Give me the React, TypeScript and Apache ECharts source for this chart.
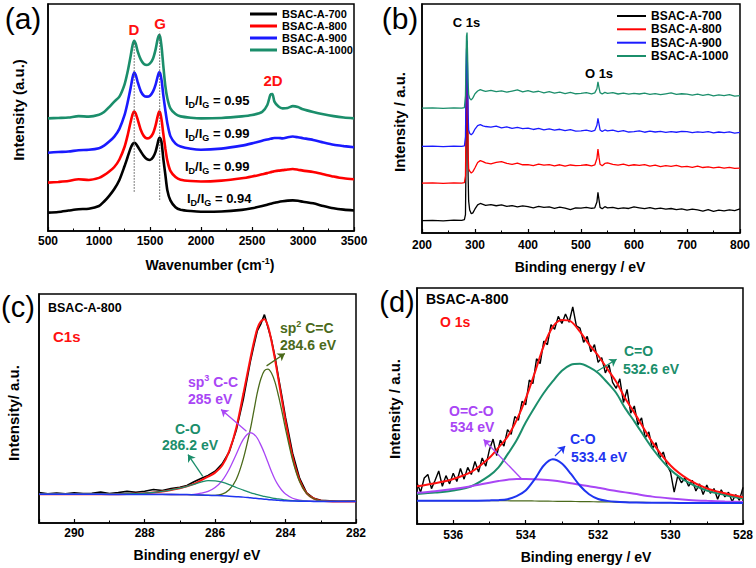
import React, { useEffect, useRef } from 'react';
import * as echarts from 'echarts';

const FONT = '"Liberation Sans", Arial, Helvetica, sans-serif';

// ---------- shared ----------
const sampleNames = ['BSAC-A-700', 'BSAC-A-800', 'BSAC-A-900', 'BSAC-A-1000'];
const sampleColors = ['#000000', '#ff0000', '#1a1aff', '#1b8e6b'];

// ---------- (a) Raman ----------
const ramanX = [500, 600, 700, 800, 900, 1000, 1050, 1100, 1150, 1200, 1250, 1280, 1310, 1330, 1345, 1360, 1380, 1410, 1440, 1470, 1500, 1530, 1555, 1575, 1590, 1600, 1615, 1630, 1650, 1670, 1700, 1750, 1800, 1900, 2000, 2200, 2400, 2500, 2600, 2650, 2680, 2700, 2720, 2760, 2800, 2850, 2900, 2950, 3000, 3100, 3200, 3300, 3400, 3500];
const raman700 = [8.1, 8.4, 9.0, 9.6, 9.8, 11.0, 13.0, 15.5, 18.5, 22.5, 28.5, 32.5, 36.5, 38.3, 38.9, 38.5, 37.2, 35.0, 33.0, 31.7, 31.3, 32.5, 35.0, 38.5, 41.0, 41.0, 38.5, 32.0, 25.0, 18.0, 13.5, 10.5, 9.4, 8.8, 8.5, 8.6, 9.3, 10.0, 11.0, 11.6, 12.0, 12.2, 12.4, 12.8, 13.1, 13.4, 13.5, 13.3, 12.9, 12.2, 11.0, 10.0, 9.4, 9.0];
const raman800 = [21.3, 21.6, 22.0, 22.8, 22.5, 23.4, 24.6, 26.2, 28.2, 31.5, 37.0, 42.0, 48.0, 51.5, 52.6, 51.8, 49.0, 44.5, 41.8, 40.8, 41.2, 43.0, 46.5, 50.5, 52.6, 52.0, 48.5, 43.0, 36.5, 31.0, 26.5, 23.8, 22.6, 22.0, 21.8, 22.2, 23.2, 24.0, 25.0, 25.5, 25.9, 26.1, 26.3, 26.6, 26.8, 27.1, 27.3, 27.0, 26.6, 26.0, 25.0, 24.0, 23.2, 22.8];
const raman900 = [34.5, 34.8, 35.0, 35.6, 35.8, 36.5, 37.6, 39.4, 41.6, 45.0, 51.0, 56.5, 63.0, 67.8, 69.8, 68.8, 65.5, 61.5, 59.6, 59.2, 59.6, 61.5, 64.5, 68.0, 69.9, 69.5, 66.0, 60.0, 53.3, 47.5, 41.8, 38.5, 37.2, 36.2, 35.8, 36.3, 37.6, 38.6, 39.8, 40.3, 40.6, 40.8, 41.0, 41.0, 40.8, 41.3, 41.6, 41.3, 40.9, 40.1, 39.0, 38.0, 37.4, 36.9];
const raman1000 = [49.6, 49.8, 50.0, 50.6, 50.4, 51.2, 52.4, 54.6, 57.0, 59.2, 64.5, 70.0, 77.0, 82.0, 83.8, 82.5, 79.0, 75.5, 73.6, 73.1, 73.8, 76.0, 80.0, 84.5, 86.3, 85.5, 80.5, 73.0, 64.0, 58.5, 54.0, 51.5, 50.5, 49.9, 49.6, 49.8, 50.5, 51.1, 52.5, 55.5, 60.0, 60.3, 57.0, 54.8, 54.0, 54.2, 55.0, 54.6, 53.6, 52.4, 51.4, 50.6, 50.0, 49.6];
const ramanGuideX = [1345, 1595];
const ramanGuideLow = [17.3, 13.7];
const ramanGuideHigh = [82.7, 87.8];
const idigValues = ['0.95', '0.99', '0.99', '0.94'];

// ---------- (b) XPS survey ----------
const xpsX = [200, 220, 240, 260, 275, 280, 282, 283, 284, 285, 286, 287, 288, 290, 293, 296, 300, 305, 310, 315, 320, 330, 340, 350, 360, 370, 380, 390, 400, 410, 420, 430, 440, 450, 460, 470, 480, 490, 500, 510, 520, 526, 530, 532, 534, 536, 540, 545, 550, 560, 570, 580, 590, 600, 610, 620, 630, 640, 650, 660, 670, 680, 690, 700, 710, 720, 730, 740, 750, 760, 770, 780, 790, 800];
const xps700 = [5.4, 5.5, 5.3, 5.6, 5.5, 5.8, 8, 30, 65, 78, 55, 25, 14, 10, 8.4, 8.8, 10.5, 12.3, 12.9, 12.5, 12.1, 12.4, 11.9, 12.3, 11.6, 12.0, 11.4, 11.8, 11.5, 11.0, 11.6, 11.2, 11.4, 10.8, 11.3, 10.9, 10.2, 11.0, 10.9, 11.2, 10.8, 11.0, 13.5, 17.8, 14.5, 11.2, 10.6, 11.5, 11.0, 11.2, 10.6, 11.0, 10.7, 11.4, 11.0, 10.6, 11.1, 10.5, 10.9, 10.4, 10.7, 10.2, 10.5, 10.0, 10.4, 10.1, 9.6, 10.2, 9.4, 10.0, 9.7, 10.1, 9.8, 10.5];
const xps800 = [21.8, 21.9, 21.7, 21.9, 21.8, 22.0, 25, 45, 72, 81, 60, 35, 28, 27, 26.2, 26.8, 28.5, 30.8, 31.6, 31.2, 30.6, 30.2, 30.8, 31.2, 30.4, 30.0, 30.5, 29.8, 29.9, 29.4, 30.1, 29.6, 29.9, 29.3, 29.8, 29.2, 29.7, 29.4, 29.5, 29.8, 29.3, 29.7, 32.5, 36.6, 33.0, 30.0, 29.4, 30.4, 30.6, 30.0, 29.6, 30.1, 29.4, 29.8, 29.5, 29.9, 29.2, 29.6, 29.0, 29.4, 29.1, 29.5, 28.9, 29.1, 28.7, 29.2, 28.6, 28.9, 28.4, 28.8, 28.3, 28.7, 28.2, 28.3];
const xps900 = [37.8, 37.9, 37.7, 37.9, 37.8, 38.0, 42, 60, 80, 84, 70, 52, 45, 43.5, 42.9, 43.6, 45.4, 46.9, 47.3, 46.8, 46.5, 46.2, 46.7, 45.9, 46.3, 45.7, 46.1, 45.6, 45.8, 45.2, 45.7, 45.0, 45.5, 44.9, 45.3, 44.7, 45.1, 44.5, 44.6, 44.9, 44.4, 44.8, 47.0, 50.1, 47.5, 45.0, 44.3, 45.0, 44.6, 44.9, 44.3, 44.7, 44.1, 44.3, 44.6, 44.0, 44.5, 44.1, 44.4, 43.9, 44.3, 44.0, 44.4, 44.3, 43.8, 44.2, 43.9, 44.3, 43.7, 44.1, 43.8, 44.2, 43.6, 43.9];
const xps1000 = [54.5, 54.6, 54.4, 54.6, 54.5, 54.8, 60, 75, 86, 87.5, 78, 66, 60.5, 58.8, 58.1, 59.0, 60.8, 62.0, 62.6, 62.2, 61.8, 62.3, 61.7, 62.1, 61.5, 62.0, 62.5, 61.6, 62.2, 61.5, 61.9, 61.2, 61.7, 61.1, 61.5, 60.9, 61.4, 60.8, 61.0, 61.3, 60.8, 61.2, 63.0, 66.0, 63.5, 61.3, 60.7, 61.4, 61.0, 61.3, 60.7, 61.1, 60.6, 61.0, 60.7, 61.1, 60.5, 60.9, 60.4, 60.8, 61.2, 60.5, 60.8, 60.6, 60.2, 60.6, 60.1, 60.5, 59.9, 60.3, 60.0, 60.4, 59.8, 60.0];

// ---------- (c) C1s ----------
const cX = [291, 290.5, 290, 289.5, 289, 288.5, 288, 287.5, 287, 286.8, 286.6, 286.4, 286.2, 286, 285.8, 285.6, 285.4, 285.2, 285, 284.9, 284.8, 284.7, 284.6, 284.5, 284.4, 284.3, 284.2, 284.1, 284, 283.8, 283.6, 283.4, 283.2, 283, 282.5, 282];
const cFit = [12.6, 12.6, 12.6, 12.6, 12.6, 12.7, 13.0, 13.8, 15.2, 16.0, 17.1, 18.6, 20.2, 22.0, 25.1, 31.4, 41.5, 56.3, 71.7, 78.9, 85.0, 88.0, 89.0, 86.0, 79.5, 71.5, 62.5, 53.4, 44.4, 28.9, 18.6, 12.9, 10.7, 9.7, 9.4, 9.4];
const cSp2 = [12.6, 12.6, 12.6, 12.6, 12.5, 12.5, 12.5, 12.5, 12.4, 12.4, 12.3, 12.2, 12.1, 12.1, 12.6, 14.5, 19.0, 28.0, 41.0, 49.0, 57.0, 63.0, 66.5, 67.2, 65.5, 61.5, 55.5, 48.5, 41.0, 27.5, 18.0, 12.8, 10.6, 9.7, 9.4, 9.4];
const cSp3 = [12.6, 12.6, 12.6, 12.6, 12.5, 12.5, 12.5, 12.5, 12.4, 12.4, 12.5, 13.0, 13.8, 15.5, 18.5, 23.5, 30.0, 36.5, 39.4, 38.8, 37.0, 34.0, 30.5, 26.5, 22.5, 19.0, 16.3, 14.2, 12.7, 10.8, 10.0, 9.6, 9.5, 9.4, 9.4, 9.4];
const cCO = [12.6, 12.6, 12.6, 12.6, 12.6, 12.7, 13.0, 13.8, 15.2, 16.0, 16.9, 17.8, 18.5, 18.4, 17.8, 16.8, 15.5, 14.4, 13.3, 12.8, 12.4, 12.0, 11.6, 11.3, 11.0, 10.7, 10.5, 10.3, 10.1, 9.8, 9.6, 9.5, 9.4, 9.4, 9.4, 9.4];
const cBg = [12.6, 12.6, 12.6, 12.6, 12.5, 12.5, 12.5, 12.5, 12.4, 12.4, 12.3, 12.2, 12.1, 12.0, 11.9, 11.7, 11.5, 11.3, 11.0, 10.85, 10.7, 10.55, 10.4, 10.25, 10.1, 10.0, 9.9, 9.8, 9.7, 9.6, 9.5, 9.5, 9.4, 9.4, 9.4, 9.4];
const cRawX = [291, 290.75, 290.5, 290.25, 290, 289.75, 289.5, 289.25, 289, 288.75, 288.5, 288.25, 288, 287.75, 287.5, 287.25, 287, 286.8, 286.6, 286.4, 286.2, 286, 285.8, 285.6, 285.4, 285.2, 285, 284.9, 284.8, 284.7, 284.6, 284.5, 284.4, 284.3, 284.2, 284.1, 284, 283.8, 283.6, 283.4, 283.2, 283, 282.5, 282];
const cRawY = [13.3, 12.8, 13.1, 12.7, 13.2, 12.9, 13.0, 13.5, 12.9, 13.3, 13.8, 13.4, 13.9, 14.6, 14.2, 15.0, 15.6, 16.4, 18.0, 19.4, 20.8, 22.6, 25.8, 31.0, 40.5, 54.0, 70.5, 77.5, 84.0, 87.0, 91.0, 85.5, 80.0, 72.5, 63.5, 55.0, 46.0, 30.5, 19.5, 13.2, 10.8, 9.9, 9.5, 9.6];

// ---------- (d) O1s ----------
const dX = [537, 536.5, 536, 535.5, 535, 534.75, 534.5, 534.25, 534, 533.75, 533.5, 533.25, 533, 532.75, 532.5, 532.25, 532, 531.75, 531.5, 531.25, 531, 530.5, 530, 529.5, 529, 528.5, 528];
const dFit = [16.0, 17.3, 19.1, 22.1, 28.1, 32.4, 37.0, 44.0, 53.0, 64.0, 75.5, 83.5, 86.4, 85.8, 81.5, 76.1, 71.4, 65.8, 60.3, 53.2, 47.2, 34.6, 24.8, 18.8, 15.1, 13.0, 11.3];
const dCdO = [12.7, 13.3, 14.2, 16.0, 20.5, 24.0, 29.5, 35.5, 43.0, 49.5, 55.5, 60.5, 64.9, 67.5, 67.9, 66.5, 64.0, 60.0, 55.5, 49.0, 43.5, 32.0, 23.0, 17.5, 14.2, 12.3, 10.8];
const dOCO = [13.2, 13.9, 14.8, 16.0, 17.5, 18.2, 18.8, 19.1, 19.1, 19.0, 18.8, 18.4, 17.9, 17.3, 16.6, 16.0, 15.4, 14.6, 14.0, 13.4, 12.8, 11.6, 10.8, 10.2, 9.8, 9.5, 9.3];
const dCO = [9.9, 9.9, 9.9, 9.9, 10.0, 10.1, 10.5, 11.8, 14.2, 19.0, 24.8, 27.4, 25.6, 21.2, 16.2, 12.6, 10.6, 9.8, 9.4, 9.2, 9.1, 9.0, 9.0, 8.9, 8.9, 8.9, 8.9];
const dBg = [9.9, 9.9, 9.9, 9.9, 9.9, 9.9, 9.85, 9.8, 9.8, 9.75, 9.7, 9.65, 9.6, 9.55, 9.5, 9.45, 9.4, 9.35, 9.3, 9.25, 9.2, 9.1, 9.0, 8.95, 8.9, 8.85, 8.8];
const dRawX = [537.0, 536.9, 536.8, 536.7, 536.6, 536.5, 536.4, 536.3, 536.2, 536.1, 536.0, 535.9, 535.8, 535.7, 535.6, 535.5, 535.4, 535.3, 535.2, 535.1, 535.0, 534.9, 534.8, 534.7, 534.6, 534.5, 534.4, 534.3, 534.2, 534.1, 534.0, 533.9, 533.8, 533.7, 533.6, 533.5, 533.4, 533.3, 533.2, 533.1, 533.0, 532.9, 532.8, 532.7, 532.6, 532.5, 532.4, 532.3, 532.2, 532.1, 532.0, 531.9, 531.8, 531.7, 531.6, 531.5, 531.4, 531.3, 531.2, 531.1, 531.0, 530.9, 530.8, 530.7, 530.6, 530.5, 530.4, 530.3, 530.2, 530.1, 530.0, 529.9, 529.8, 529.7, 529.6, 529.5, 529.4, 529.3, 529.2, 529.1, 529.0, 528.9, 528.8, 528.7, 528.6, 528.5, 528.4, 528.3, 528.2, 528.1, 528.0];
const dRawY = [17.5, 13.5, 19.5, 21.0, 15.0, 18.5, 22.5, 16.0, 20.5, 17.0, 21.5, 18.0, 23.5, 19.0, 24.0, 21.0, 26.5, 22.0, 28.0, 24.5, 31.5, 36.0, 29.0, 35.5, 33.0, 40.0, 38.0, 45.5, 44.0, 52.0, 50.5, 61.0, 59.5, 70.0, 68.0, 77.5, 76.0, 84.5, 82.5, 88.0, 85.0, 89.0, 85.5, 92.0, 84.0, 83.0, 77.0, 79.5, 73.0, 76.0, 68.5, 70.5, 64.0, 67.5, 60.0, 57.5, 61.5, 51.5, 57.0, 47.0, 50.0, 42.0, 45.0, 36.5, 39.0, 32.0, 34.5, 28.0, 30.5, 25.0, 22.0, 13.5, 20.5, 17.5, 19.5, 16.0, 18.5, 14.0, 17.0, 12.5, 16.5, 13.0, 15.0, 10.5, 14.5, 11.5, 13.5, 9.5, 12.5, 10.0, 15.5];

const RED = '#ff1010';
const OLIVE = '#4b6a1b';
const VIOLET = '#a946f5';
const TEAL = '#1b8e6b';
const BLUE = '#1f35f0';

// annotation arrows [x1, y1, x2, y2] in data units
const cArrowSp2 = [284.54, 68.6, 284.02, 74.0];
const cArrowSp3 = [285.11, 40.1, 285.83, 49.6];
const cArrowCO = [286.35, 20.4, 286.77, 29.9];
const dArrowCdO = [532.04, 64.6, 531.49, 69.8];
const dArrowOCO = [534.11, 19.1, 535.16, 35.8];
const dArrowCO = [533.19, 28.8, 532.91, 33.0];

const zip = (xs: number[], ys: number[]) => xs.map((x, i) => [x, ys[i]]);

function arrow(a: number[], color: string) {
  return {
    silent: true,
    symbol: ['none', 'arrow'],
    symbolSize: 7,
    label: { show: false },
    lineStyle: { color, width: 1.3, type: 'solid' },
    data: [[{ coord: [a[0], a[1]] }, { coord: [a[2], a[3]] }]],
  };
}

function txt(text: string, x: number, y: number, o: any = {}) {
  const size = o.size ?? 13;
  const weight = o.weight ?? 'bold';
  const fill = o.fill ?? '#000';
  const align = o.align ?? 'left';
  const st: any = {
    text,
    fill,
    fontSize: size,
    fontWeight: weight,
    fontFamily: FONT,
    align,
    verticalAlign: 'middle',
    textAlign: align,
    textVerticalAlign: 'middle',
  };
  if (o.rich) st.rich = o.rich;
  return { type: 'text', x, y, rotation: o.rotation ?? 0, silent: true, z: 100, style: st };
}

function richSet(size: number, fill: string, subSize: number) {
  return {
    m: { fontSize: size, fontWeight: 'bold', fontFamily: FONT, fill, lineHeight: 18 },
    s: { fontSize: subSize, fontWeight: 'bold', fontFamily: FONT, fill, lineHeight: 10, verticalAlign: 'bottom' },
    p: { fontSize: subSize, fontWeight: 'bold', fontFamily: FONT, fill, lineHeight: 10, verticalAlign: 'top' },
  };
}

const grids = [
  { left: 48, top: 4, width: 306, height: 227 },
  { left: 422, top: 4, width: 318, height: 229 },
  { left: 39, top: 294, width: 317, height: 229 },
  { left: 417, top: 288, width: 326, height: 236 },
];

function xAxisCfg(gi: number, min: number, max: number, interval: number, inverse: boolean, margin: number) {
  return {
    type: 'value',
    gridIndex: gi,
    min,
    max,
    interval,
    inverse,
    axisLine: { show: true, onZero: false, lineStyle: { color: '#000', width: 1.5 } },
    axisTick: { show: true, inside: true, length: 4, lineStyle: { color: '#000', width: 1.2 } },
    minorTick: { show: true, splitNumber: 2, length: 2.5, lineStyle: { color: '#000', width: 1 } },
    splitLine: { show: false },
    axisLabel: {
      color: '#000',
      fontSize: 12,
      fontWeight: 'bold',
      fontFamily: FONT,
      margin,
      formatter: (v: number) => (Math.round(v) % interval === 0 || interval >= 100 ? String(v) : ''),
    },
  };
}

function yAxisCfg(gi: number) {
  return {
    type: 'value',
    gridIndex: gi,
    min: 0,
    max: 100,
    axisLine: { show: true, onZero: false, lineStyle: { color: '#000', width: 1.5 } },
    axisTick: { show: false },
    axisLabel: { show: false },
    splitLine: { show: false },
  };
}

function lineS(name: string, gi: number, data: any[], color: string, width: number, smooth: any, extra: any = {}) {
  return {
    name,
    type: 'line',
    xAxisIndex: gi,
    yAxisIndex: gi,
    data,
    symbol: 'none',
    showSymbol: false,
    smooth,
    lineStyle: { color, width },
    itemStyle: { color },
    emphasis: { disabled: true },
    ...extra,
  };
}

function legendItem(name: string, left: number, centerY: number, w: number, h: number, size: number) {
  return {
    data: [name],
    left,
    top: centerY - size / 2,
    orient: 'horizontal',
    icon: 'rect',
    itemWidth: w,
    itemHeight: h,
    itemGap: 0,
    padding: 0,
    selectedMode: false,
    textStyle: { color: '#000', fontSize: size, fontWeight: 'bold', fontFamily: FONT, lineHeight: size },
  };
}

export default function App() {
  const ref = useRef<HTMLDivElement>(null);
  useEffect(() => {
    if (!ref.current) return;
    const chart = echarts.init(ref.current, null, { renderer: 'svg' });

    const series: any[] = [];
    [raman700, raman800, raman900, raman1000].forEach((ys, i) => {
      series.push(lineS(sampleNames[i], 0, zip(ramanX, ys), sampleColors[i], 2.6, 0.25));
    });
    ramanGuideX.forEach((gx, i) => {
      series.push(
        lineS('guide' + i, 0, [[gx, ramanGuideLow[i]], [gx, ramanGuideHigh[i]]], '#555', 1, false, {
          lineStyle: { color: '#555', width: 1, type: [1.5, 1.5] },
          z: 5,
        })
      );
    });
    [xps700, xps800, xps900, xps1000].forEach((ys, i) => {
      series.push(lineS(sampleNames[i], 1, zip(xpsX, ys), sampleColors[i], 1.3, false));
    });
    // (c)
    series.push(lineS('c-raw', 2, zip(cRawX, cRawY), '#000', 1.6, false));
    series.push(lineS('c-fit', 2, zip(cX, cFit), RED, 2, 0.3));
    series.push(lineS('c-sp2', 2, zip(cX, cSp2), OLIVE, 1.3, 0.3, { markLine: arrow(cArrowSp2, OLIVE) }));
    series.push(lineS('c-sp3', 2, zip(cX, cSp3), VIOLET, 1.3, 0.3, { markLine: arrow(cArrowSp3, VIOLET) }));
    series.push(lineS('c-co', 2, zip(cX, cCO), TEAL, 1.3, 0.3, { markLine: arrow(cArrowCO, TEAL) }));
    series.push(lineS('c-bg', 2, zip(cX, cBg), BLUE, 1.5, 0.3));
    // (d)
    series.push(lineS('d-raw', 3, zip(dRawX, dRawY), '#000', 1.4, false));
    series.push(lineS('d-bg', 3, zip(dX, dBg), OLIVE, 1.2, 0.3));
    series.push(lineS('d-cdo', 3, zip(dX, dCdO), TEAL, 2, 0.3, { markLine: arrow(dArrowCdO, TEAL) }));
    series.push(lineS('d-oco', 3, zip(dX, dOCO), VIOLET, 2, 0.3, { markLine: arrow(dArrowOCO, VIOLET) }));
    series.push(lineS('d-co', 3, zip(dX, dCO), BLUE, 2, 0.3, { markLine: arrow(dArrowCO, BLUE) }));
    series.push(lineS('d-fit', 3, zip(dX, dFit), RED, 2, 0.3));

    const legends: any[] = [];
    const aRows = [14, 26, 38, 50];
    const bRows = [16, 29.3, 42.7, 56];
    sampleNames.forEach((n, i) => legends.push(legendItem(n, 250, aRows[i], 27, 3, 11)));
    sampleNames.forEach((n, i) => legends.push(legendItem(n, 617, bRows[i], 29, 2, 12)));

    const idigY = [100, 133, 166, 198];
    const idigXs = [185, 185, 185, 187];
    const blackRich = richSet(13, '#000', 9);

    const graphic: any[] = [
      // panel letters
      txt('(a)', 23, 18, { size: 30, weight: 'normal', align: 'center' }),
      txt('(b)', 400, 18, { size: 30, weight: 'normal', align: 'center' }),
      txt('(c)', 18, 307, { size: 29, weight: 'normal', align: 'center' }),
      txt('(d)', 397, 302, { size: 29, weight: 'normal', align: 'center' }),
      // (a)
      txt('D', 134, 29, { size: 15, fill: RED, align: 'center' }),
      txt('G', 160, 23, { size: 15, fill: RED, align: 'center' }),
      txt('2D', 273, 80, { size: 15, fill: RED, align: 'center' }),
      ...idigValues.map((v, i) =>
        txt(`{m|I}{s|D}{m|/I}{s|G}{m| = ${v}}`, idigXs[i], idigY[i], { rich: blackRich })
      ),
      txt('Intensity (a.u.)', 18.5, 110, { size: 15, rotation: Math.PI / 2, align: 'center' }),
      txt('{m|Wavenumber (cm}{p|-1}{m|)}', 210, 265, { align: 'center', rich: richSet(14, '#000', 9) }),
      // (b)
      txt('C 1s', 466.5, 22.5, { size: 13, align: 'center' }),
      txt('O 1s', 599, 73, { size: 13, align: 'center' }),
      txt('Intensity / a.u.', 399, 122, { size: 15, rotation: Math.PI / 2, align: 'center' }),
      txt('Binding energy / eV', 580, 267, { size: 14, align: 'center' }),
      // (c)
      txt('BSAC-A-800', 48, 308, { size: 12.5 }),
      txt('C1s', 53, 336, { size: 15, fill: RED }),
      txt('{m|sp}{p|2}{m| C=C}', 280, 328, { rich: richSet(14, OLIVE, 9) }),
      txt('284.6 eV', 280, 345, { size: 14, fill: OLIVE }),
      txt('{m|sp}{p|3}{m| C-C}', 188, 382, { rich: richSet(14, VIOLET, 9) }),
      txt('285 eV', 188, 399, { size: 14, fill: VIOLET }),
      txt('C-O', 175, 429, { size: 14, fill: TEAL }),
      txt('286.2 eV', 162, 445, { size: 14, fill: TEAL }),
      txt('Intensity/ a.u.', 13, 413, { size: 15, rotation: Math.PI / 2, align: 'center' }),
      txt('Binding energy/ eV', 197, 555, { size: 14, align: 'center' }),
      // (d)
      txt('BSAC-A-800', 426, 299, { size: 14 }),
      txt('O 1s', 440, 322, { size: 14, fill: RED }),
      txt('C=O', 624, 351, { size: 14, fill: TEAL }),
      txt('532.6 eV', 623, 369, { size: 14, fill: TEAL }),
      txt('O=C-O', 449, 411, { size: 14, fill: VIOLET }),
      txt('534 eV', 450, 427, { size: 14, fill: VIOLET }),
      txt('C-O', 570, 439, { size: 14, fill: BLUE }),
      txt('533.4 eV', 571, 457, { size: 14, fill: BLUE }),
      txt('Intensity / a.u.', 394, 409, { size: 15, rotation: Math.PI / 2, align: 'center' }),
      txt('Binding energy / eV', 586, 557, { size: 14, align: 'center' }),
    ];

    chart.setOption({
      animation: false,
      backgroundColor: '#ffffff',
      grid: grids.map((g) => ({ ...g, show: true, borderColor: '#000', borderWidth: 1.5, backgroundColor: 'transparent' })),
      xAxis: [
        xAxisCfg(0, 500, 3500, 500, false, 4),
        xAxisCfg(1, 200, 800, 100, false, 6),
        xAxisCfg(2, 282, 291, 2, true, 4),
        xAxisCfg(3, 528, 537, 2, true, 5),
      ],
      yAxis: [yAxisCfg(0), yAxisCfg(1), yAxisCfg(2), yAxisCfg(3)],
      legend: legends,
      series,
      graphic,
    });
    return () => chart.dispose();
  }, []);
  return (
    <div
      ref={ref}
      style={{ position: 'absolute', left: 0, top: 0, width: 756, height: 568, background: '#fff' }}
    />
  );
}
